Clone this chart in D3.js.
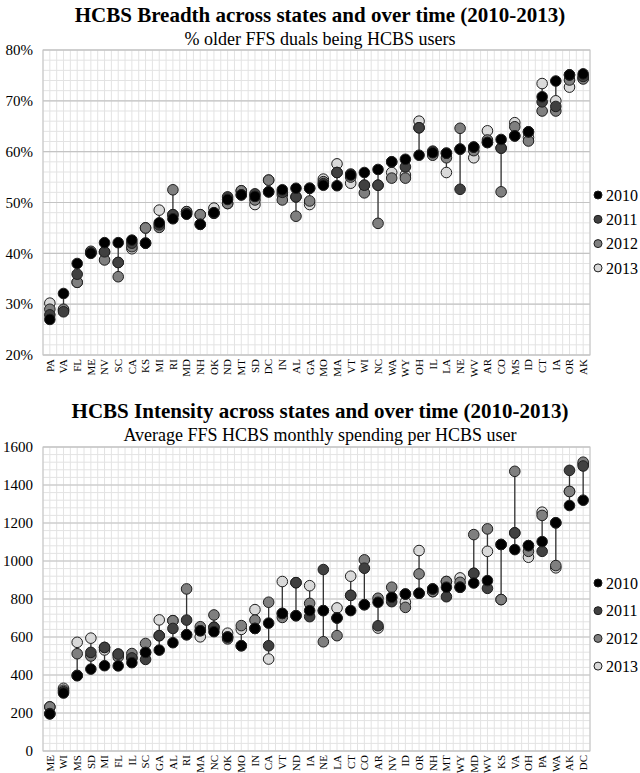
<!DOCTYPE html>
<html>
<head>
<meta charset="utf-8">
<script src="https://cdn.jsdelivr.net/npm/d3@7"></script>
<style>
  body { margin: 0; background: #fff; }
  svg text { font-family: "Liberation Serif", "DejaVu Serif", serif; fill: #000; }
</style>
</head>
<body>
<div id="chart"></div>
<script>
// ---- data ----
var years = ['2010', '2011', '2012', '2013'];
var yearColors = ['#000000', '#404040', '#7f7f7f', '#d9d9d9'];

// HCBS Breadth (% of older FFS duals)
var breadthStates = ['PA','VA','FL','ME','NV','SC','CA','KS','MI','RI','MD','NH','OK','ND','MT','SD','DC','IN','AL','GA',
                     'MO','MA','VT','WI','NC','WA','WY','OH','IL','LA','NE','WV','AR','CO','MS','ID','CT','IA','OR','AK'];
var breadth2010 = [27.0,32.1,38.0,40.0,42.1,42.1,42.6,42.0,46.0,46.8,47.7,45.7,48.0,50.6,51.5,51.2,52.1,52.5,52.8,52.8,
                   53.4,53.3,55.4,55.9,56.5,58.0,58.5,59.3,59.8,59.7,60.5,60.9,61.8,62.4,63.1,63.9,70.8,73.9,75.1,75.3];
var breadth2011 = [27.9,28.5,35.9,40.1,40.3,38.2,42.0,42.0,45.6,47.6,47.8,45.7,47.9,51.1,51.5,51.7,52.1,52.0,51.1,52.8,
                   53.7,55.9,55.6,53.4,53.4,58.0,57.0,64.7,60.1,59.7,52.6,60.9,61.8,60.7,63.1,63.9,69.8,68.9,75.1,74.8];
var breadth2012 = [29.0,29.0,34.3,40.4,38.7,35.4,41.3,45.0,45.1,52.5,48.2,47.6,47.9,49.8,52.3,50.5,54.4,50.5,47.3,50.3,
                   54.1,55.9,55.0,51.9,45.9,54.8,54.8,64.7,59.3,58.8,64.6,60.2,62.3,52.1,64.9,62.1,68.0,68.0,74.1,74.3];
var breadth2013 = [30.2,28.8,34.3,40.2,40.3,38.2,40.9,45.0,48.5,47.6,48.2,47.6,48.9,49.8,52.3,49.6,54.4,51.5,51.1,49.6,
                   54.6,57.6,53.8,53.4,53.4,55.9,55.4,66.0,59.6,55.9,60.5,58.8,64.1,60.7,65.7,62.8,73.4,70.0,72.7,74.5];
var breadthTicks = [20, 30, 40, 50, 60, 70, 80];

// HCBS Intensity (average monthly spending per user)
var intensityStates = ['ME','WI','MS','SD','MI','FL','IL','SC','GA','AL','RI','MA','NC','OK','MO','IN','CA','VT','ND','IA',
                       'NE','LA','CT','CO','AR','NV','ID','OR','NH','MT','WY','MD','WV','KS','VA','OH','PA','WA','AK','DC'];
var intensity2010 = [195,305,396,431,449,448,465,519,531,570,612,633,628,600,554,645,673,724,712,739,
                     739,700,739,770,783,809,826,830,853,862,862,884,897,1087,1060,1081,1102,1201,1292,1320];
var intensity2011 = [197,312,398,519,545,510,490,482,607,645,689,633,651,600,554,645,554,724,886,707,
                     955,700,819,962,659,786,826,830,853,812,862,935,856,1087,1148,1081,1051,1201,1477,1500];
var intensity2012 = [232,320,512,500,545,495,513,566,607,686,853,654,716,590,660,689,783,703,886,777,
                     575,607,819,1006,804,862,756,932,839,892,888,1139,1169,797,1472,1051,1240,976,1366,1520];
var intensity2013 = [232,330,572,594,532,510,490,519,690,686,612,601,651,620,640,744,484,892,712,870,
                     739,753,920,770,647,809,783,1055,839,892,911,935,1051,797,1148,1020,1257,964,1366,1510];
var intensityTicks = [0, 200, 400, 600, 800, 1000, 1200, 1400, 1600];

var svg = d3.select('#chart').append('svg')
    .attr('width', 640)
    .attr('height', 773);

// draw one dot-plot panel
function drawPanel(opt) {
    var g = svg.append('g');

    var x = d3.scaleBand()
        .domain(opt.states)
        .range([opt.left, opt.right]);

    var y = d3.scaleLinear()
        .domain(opt.domain)
        .range([opt.bottom, opt.top]);

    // titles
    g.append('text')
        .attr('x', 320).attr('y', opt.titleY)
        .attr('text-anchor', 'middle')
        .style('font-size', '21px').style('font-weight', 'bold')
        .text(opt.title);
    g.append('text')
        .attr('x', 320).attr('y', opt.titleY + 23)
        .attr('text-anchor', 'middle')
        .style('font-size', '18px')
        .text(opt.subtitle);

    // minor grid
    var minor = d3.range(opt.domain[0], opt.domain[1] + opt.minorStep / 2, opt.minorStep);
    g.selectAll('.hminor').data(minor).enter().append('line')
        .attr('x1', opt.left).attr('x2', opt.right)
        .attr('y1', function(d) { return y(d); })
        .attr('y2', function(d) { return y(d); })
        .attr('stroke', '#e3e3e3').attr('stroke-width', 1);

    var halfBands = d3.range(0, opt.states.length * 2 + 1);
    g.selectAll('.vminor').data(halfBands).enter().append('line')
        .attr('x1', function(k) { return opt.left + k * x.bandwidth() / 2; })
        .attr('x2', function(k) { return opt.left + k * x.bandwidth() / 2; })
        .attr('y1', opt.top).attr('y2', opt.bottom)
        .attr('stroke', '#e3e3e3').attr('stroke-width', 1);

    // major grid
    g.selectAll('.hmajor').data(opt.ticks).enter().append('line')
        .attr('x1', opt.left).attr('x2', opt.right)
        .attr('y1', function(d) { return y(d); })
        .attr('y2', function(d) { return y(d); })
        .attr('stroke', '#c4c4c4').attr('stroke-width', 1.2);

    g.append('rect')
        .attr('x', opt.left).attr('y', opt.top)
        .attr('width', opt.right - opt.left).attr('height', opt.bottom - opt.top)
        .attr('fill', 'none').attr('stroke', '#c4c4c4');

    // y axis labels
    var yaxis = d3.axisLeft(y)
        .tickValues(opt.ticks)
        .tickSize(0)
        .tickPadding(10)
        .tickFormat(opt.format);
    var ya = g.append('g')
        .attr('transform', 'translate(' + opt.left + ',0)')
        .call(yaxis)
        .attr('font-family', '"Liberation Serif", serif');
    ya.select('.domain').remove();
    ya.selectAll('text').style('font-size', '15px');

    // x axis labels (rotated state codes)
    var xaxis = d3.axisBottom(x).tickSize(0).tickPadding(0);
    var xa = g.append('g')
        .attr('transform', 'translate(0,' + opt.bottom + ')')
        .call(xaxis)
        .attr('font-family', '"Liberation Serif", serif');
    xa.select('.domain').remove();
    xa.selectAll('text')
        .style('font-size', '11px')
        .style('text-anchor', 'end')
        .attr('dx', '-4')
        .attr('dy', '0.35em')
        .attr('y', 0)
        .attr('transform', 'rotate(-90)');

    // rows: one per state with the four yearly values
    var rows = opt.states.map(function(s, i) {
        return { state: s, vals: opt.series.map(function(arr) { return arr[i]; }) };
    });

    // range line per state
    g.selectAll('.range').data(rows).enter().append('line')
        .attr('x1', function(d) { return x(d.state) + x.bandwidth() / 2; })
        .attr('x2', function(d) { return x(d.state) + x.bandwidth() / 2; })
        .attr('y1', function(d) { return y(d3.min(d.vals)); })
        .attr('y2', function(d) { return y(d3.max(d.vals)); })
        .attr('stroke', '#333').attr('stroke-width', 1.3);

    // dots, one layer per year - latest year drawn first so 2010 sits on top
    [3, 2, 1, 0].forEach(function(j) {
        g.selectAll('.dot' + j).data(rows).enter().append('circle')
            .attr('cx', function(d) { return x(d.state) + x.bandwidth() / 2; })
            .attr('cy', function(d) { return y(d.vals[j]); })
            .attr('r', 5.3)
            .attr('fill', yearColors[j])
            .attr('stroke', '#1e1e1e').attr('stroke-width', 1);
    });

    // legend
    var lg = g.selectAll('.leg').data(years).enter().append('g')
        .attr('transform', function(d, i) { return 'translate(598,' + (opt.legendY + i * opt.legendStep) + ')'; });
    lg.append('circle')
        .attr('r', 4)
        .attr('fill', function(d, i) { return yearColors[i]; })
        .attr('stroke', '#1e1e1e');
    lg.append('text')
        .attr('x', 8).attr('dy', '0.35em')
        .style('font-size', '16px')
        .text(function(d) { return d; });
}

drawPanel({
    title: 'HCBS Breadth across states and over time (2010-2013)',
    subtitle: '% older FFS duals being HCBS users',
    titleY: 22,
    states: breadthStates,
    series: [breadth2010, breadth2011, breadth2012, breadth2013],
    domain: [20, 80], ticks: breadthTicks, minorStep: 2,
    format: function(d) { return d + '%'; },
    left: 43, right: 590, top: 50, bottom: 355,
    legendY: 195, legendStep: 24.3
});

drawPanel({
    title: 'HCBS Intensity across states and over time (2010-2013)',
    subtitle: 'Average FFS HCBS monthly spending per HCBS user',
    titleY: 418,
    states: intensityStates,
    series: [intensity2010, intensity2011, intensity2012, intensity2013],
    domain: [0, 1600], ticks: intensityTicks, minorStep: 40,
    format: function(d) { return d; },
    left: 43, right: 590, top: 447, bottom: 751,
    legendY: 583, legendStep: 27.7
});
</script>
</body>
</html>
